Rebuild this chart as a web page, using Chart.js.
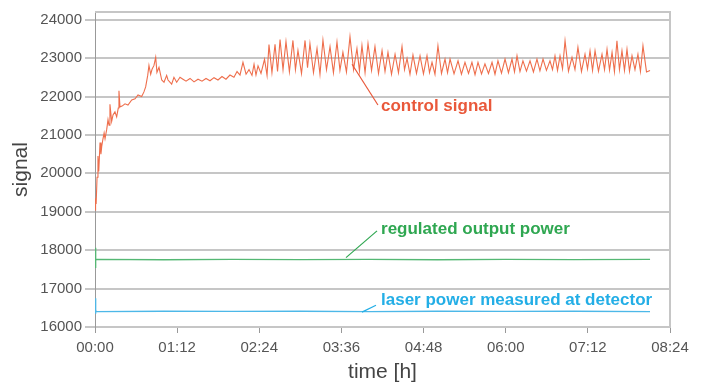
<!DOCTYPE html>
<html lang="en">
<head>
  <meta charset="UTF-8">
  <title>Signal vs time</title>
  <style>
    body { margin: 0; background: #fff; }
    #wrap { width: 704px; height: 383px; }
  </style>
</head>
<body>

<div id="wrap"><canvas id="signalChart"></canvas></div>

<script src="https://cdn.jsdelivr.net/npm/chart.js"></script>
<script>
  // time in minutes since start
  const controlTime = [
    0, 0.5, 1.0, 1.8, 2.6, 3.3, 4.4, 5.2, 5.9, 7.0,
    8.0, 8.8, 10.3, 11.4, 12.3, 13.1, 14.6, 15.8, 17.5, 19.0,
    20.4, 21.0, 21.9, 23.7, 26.3, 28.9, 32.2, 35.1, 37.7, 40.9,
    42.9, 44.4, 46.2, 47.3, 48.8, 50.0, 51.7, 53.2, 54.3, 56.1,
    58.5, 60.5, 62.8, 64.0, 67.2, 69.2, 71.6, 74.5, 77.1, 79.8,
    83.3, 86.8, 90.3, 93.8, 97.3, 100.8, 104.3, 107.8, 111.3, 114.8,
    118.3, 121.8, 124.5, 127.1, 129.7, 132.4, 135.0, 137.6, 139.4, 141.1,
    142.9, 145.5, 148.6, 150.8, 152.5, 155.1, 157.8, 160.0, 162.2, 164.8,
    167.4, 170.4, 173.5, 175.7, 177.9, 181.0, 184.1, 186.3, 188.4, 191.5,
    194.6, 197.2, 199.8, 202.9, 206.0, 209.0, 212.1, 214.7, 217.3, 220.4,
    223.5, 226.6, 229.6, 231.8, 234.0, 236.7, 239.3, 242.4, 245.4, 248.5,
    251.6, 254.2, 256.8, 259.9, 263.0, 266.0, 269.1, 271.3, 273.5, 276.1,
    278.7, 281.8, 284.9, 287.9, 291.0, 293.2, 295.4, 298.0, 300.6, 303.7,
    306.8, 309.0, 311.2, 314.7, 318.2, 321.2, 324.3, 327.4, 330.4, 333.1,
    335.7, 338.8, 341.8, 344.9, 348.0, 350.6, 353.2, 356.3, 359.4, 362.4,
    365.5, 367.7, 369.9, 372.5, 375.1, 378.2, 381.3, 384.3, 387.4, 390.0,
    392.7, 395.7, 398.8, 401.0, 403.2, 405.4, 407.6, 409.8, 412.0, 415.0,
    418.1, 420.7, 423.3, 426.4, 429.5, 431.7, 433.9, 436.1, 438.3, 441.3,
    444.4, 446.6, 448.8, 451.0, 453.2, 455.3, 457.5, 459.7, 461.9, 464.1,
    466.3, 468.5, 470.7, 473.3, 475.9, 478.1, 480.3, 483.4, 486.5
  ];
  const controlSignal = [
    19050, 19350, 19200, 19900, 20450, 20050, 20800, 20500, 20700, 20900,
    21050, 20900, 21150, 21400, 21250, 21800, 21350, 21520, 21600, 21470,
    21700, 22150, 21730, 21750, 21810, 21780, 21910, 21940, 22040, 22000,
    22120, 22250, 22550, 22810, 22580, 22710, 22810, 23020, 22630, 22760,
    22430, 22370, 22550, 22430, 22320, 22500, 22370, 22500, 22450, 22400,
    22470, 22380, 22450, 22400, 22470, 22410, 22490, 22430, 22520, 22450,
    22560, 22500, 22650, 22560, 22890, 22580, 22700, 22550, 22840, 22560,
    22800, 22600, 22970, 22550, 23350, 22620, 23360, 22650, 23480, 22700,
    23430, 22640, 23460, 22700, 23200, 22600, 23460, 22750, 23380, 22620,
    23250, 22580, 23470, 22700, 23300, 22620, 23420, 22680, 23150, 22640,
    23560, 22700, 23250, 22660, 23330, 22620, 23380, 22680, 23300, 22600,
    23200, 22650, 23150, 22580, 23100, 22620, 23300, 22700, 22990, 22580,
    23080, 22600, 23060, 22590, 23060, 22620, 22890, 22580, 23320, 22600,
    22975, 22620, 22975, 22590, 22930, 22580, 22890, 22600, 22890, 22570,
    22890, 22590, 22850, 22600, 22890, 22580, 22930, 22610, 22975, 22620,
    22975, 22640, 23060, 22650, 22930, 22660, 22930, 22640, 22975, 22670,
    22975, 22680, 22930, 22700, 23060, 22680, 23060, 22720, 23450, 22660,
    23020, 22700, 23280, 22650, 23100, 22720, 23190, 22680, 23190, 22660,
    23100, 22700, 23230, 22690, 23150, 22650, 23450, 22700, 23190, 22680,
    23230, 22660, 23060, 22700, 23100, 22650, 23320, 22640, 22680
  ];

  const powerTime = [0, 0.4, 0.8, 1.5, 60, 120, 180, 240, 300, 360, 420, 486.5];
  const regulatedPower = [17550, 18060, 17740, 17760, 17750, 17760, 17755, 17760, 17750, 17760, 17755, 17760];
  const detectorPower = [16360, 16750, 16420, 16400, 16410, 16405, 16410, 16400, 16410, 16405, 16410, 16400];

  const xTicks = [0, 72, 144, 216, 288, 360, 432, 504];
  const yTicks = [16000, 17000, 18000, 19000, 20000, 21000, 22000, 23000, 24000];

  // callout labels: text, colour, leader line start/end and text anchor (minutes, signal)
  const callouts = [
    { text: 'control signal', color: '#e9583a', line: [[225.3, 22840], [248.0, 21780]], at: [250.7, 21755] },
    { text: 'regulated output power', color: '#2fa751', line: [[220.0, 17806], [247.2, 18503]], at: [250.7, 18555] },
    { text: 'laser power measured at detector', color: '#23aee6', line: [[234.0, 16387], [246.3, 16568]], at: [250.7, 16697] }
  ];

  const FONT = "'Liberation Sans', Arial, Helvetica, sans-serif";

  function toPoints(xs, ys) {
    return xs.map((x, i) => ({ x: x, y: ys[i] }));
  }

  function hhmm(m) {
    const h = Math.floor(m / 60);
    const mm = Math.round(m - h * 60);
    return String(h).padStart(2, '0') + ':' + String(mm).padStart(2, '0');
  }

  // top and right frame lines of the plot box
  const framePlugin = {
    id: 'frame',
    beforeDatasetsDraw(chart) {
      const { ctx, chartArea: a } = chart;
      ctx.save();
      ctx.strokeStyle = '#c6c6c6';
      ctx.lineWidth = 2;
      ctx.beginPath();
      ctx.moveTo(a.left, a.top);
      ctx.lineTo(a.right, a.top);
      ctx.lineTo(a.right, a.bottom);
      ctx.stroke();
      ctx.restore();
    }
  };

  const calloutPlugin = {
    id: 'callouts',
    afterDatasetsDraw(chart) {
      const { ctx, scales: { x, y } } = chart;
      ctx.save();
      callouts.forEach(c => {
        ctx.strokeStyle = c.color;
        ctx.lineWidth = 1.2;
        ctx.beginPath();
        ctx.moveTo(x.getPixelForValue(c.line[0][0]), y.getPixelForValue(c.line[0][1]));
        ctx.lineTo(x.getPixelForValue(c.line[1][0]), y.getPixelForValue(c.line[1][1]));
        ctx.stroke();
        ctx.fillStyle = c.color;
        ctx.font = 'bold 17px ' + FONT;
        ctx.textAlign = 'left';
        ctx.textBaseline = 'middle';
        ctx.fillText(c.text, x.getPixelForValue(c.at[0]), y.getPixelForValue(c.at[1]));
      });
      ctx.restore();
    }
  };

  const ctx = document.getElementById('signalChart').getContext('2d');
  const signalChart = new Chart(ctx, {
    type: 'line',
    data: {
      datasets: [
        {
          label: 'control signal',
          data: toPoints(controlTime, controlSignal),
          borderColor: '#ee6e4c',
          borderWidth: 1.1,
          pointRadius: 0,
          tension: 0
        },
        {
          label: 'regulated output power',
          data: toPoints(powerTime, regulatedPower),
          borderColor: '#55b874',
          borderWidth: 1.3,
          pointRadius: 0
        },
        {
          label: 'laser power measured at detector',
          data: toPoints(powerTime, detectorPower),
          borderColor: '#4db8e8',
          borderWidth: 1.3,
          pointRadius: 0
        }
      ]
    },
    options: {
      responsive: true,
      maintainAspectRatio: false,
      animation: false,
      devicePixelRatio: 1,
      layout: { padding: { top: 9, right: 34, left: 0, bottom: 0 } },
      plugins: {
        legend: { display: false },
        tooltip: { enabled: false }
      },
      scales: {
        x: {
          type: 'linear',
          min: 0,
          max: 504,
          afterBuildTicks: axis => { axis.ticks = xTicks.map(v => ({ value: v })); },
          afterFit: scale => { scale.height = 56; },
          ticks: {
            color: '#555',
            font: { family: FONT, size: 15 },
            padding: 6,
            maxRotation: 0,
            autoSkip: false,
            callback: v => hhmm(v)
          },
          grid: { drawOnChartArea: false, tickLength: 6, color: '#999', lineWidth: 1 },
          border: { color: '#c6c6c6', width: 2 },
          title: {
            display: true,
            text: 'time [h]',
            color: '#444',
            font: { family: FONT, size: 21, lineHeight: 1 },
            padding: 0
          }
        },
        y: {
          min: 16000,
          max: 24200,
          afterBuildTicks: axis => { axis.ticks = yTicks.map(v => ({ value: v })); },
          afterFit: scale => { scale.width = 95; },
          ticks: {
            color: '#555',
            font: { family: FONT, size: 15 },
            padding: 3,
            autoSkip: false,
            callback: v => String(v)
          },
          grid: { color: '#c6c6c6', lineWidth: 2, tickLength: 10 },
          border: { color: '#999', width: 1 },
          title: {
            display: true,
            text: 'signal',
            color: '#444',
            font: { family: FONT, size: 21, lineHeight: 1 },
            padding: { top: 11, bottom: 0 }
          }
        }
      }
    },
    plugins: [framePlugin, calloutPlugin]
  });
</script>

</body>
</html>
